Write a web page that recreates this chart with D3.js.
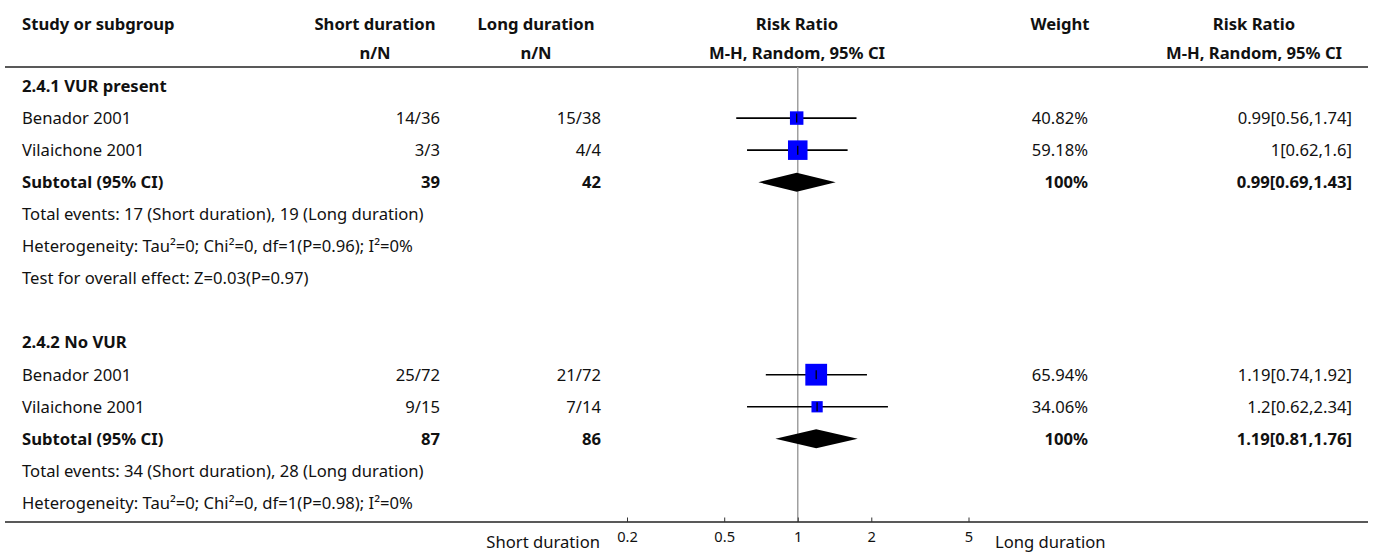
<!DOCTYPE html>
<html><head><meta charset="utf-8">
<script src="https://cdn.jsdelivr.net/npm/d3@7"></script>
<style>
body{margin:0;background:#fff;}
text{font-family:"Noto Sans",sans-serif;fill:#111;}
.b{font-weight:bold;}
</style></head>
<body><svg id="c" width="1373" height="552"></svg>
<script>
// ---- data ----
const groupNames = ["2.4.1 VUR present", "2.4.2 No VUR"];
const studyNames = ["Benador 2001", "Vilaichone 2001", "Benador 2001", "Vilaichone 2001"];
const studyGroup = [0, 0, 1, 1];
const shortEvents = ["14/36", "3/3", "25/72", "9/15"];
const longEvents = ["15/38", "4/4", "21/72", "7/14"];
const rr = [0.99, 1, 1.19, 1.2];
const ciLow = [0.56, 0.62, 0.74, 0.62];
const ciHigh = [1.74, 1.6, 1.92, 2.34];
const weights = [40.82, 59.18, 65.94, 34.06];
const weightText = ["40.82%", "59.18%", "65.94%", "34.06%"];
const ciText = ["0.99[0.56,1.74]", "1[0.62,1.6]", "1.19[0.74,1.92]", "1.2[0.62,2.34]"];
const subShortN = ["39", "87"];
const subLongN = ["42", "86"];
const subRR = [0.99, 1.19];
const subLow = [0.69, 0.81];
const subHigh = [1.43, 1.76];
const subWeightText = ["100%", "100%"];
const subCiText = ["0.99[0.69,1.43]", "1.19[0.81,1.76]"];
const totalEventsText = ["Total events: 17 (Short duration), 19 (Long duration)", "Total events: 34 (Short duration), 28 (Long duration)"];
const heterogeneityText = ["Heterogeneity: Tau\u00b2=0; Chi\u00b2=0, df=1(P=0.96); I\u00b2=0%", "Heterogeneity: Tau\u00b2=0; Chi\u00b2=0, df=1(P=0.98); I\u00b2=0%"];
const overallText = ["Test for overall effect: Z=0.03(P=0.97)", null];
const axisTicks = [0.2, 0.5, 1, 2, 5];
const axisLeftLabel = "Short duration";
const axisRightLabel = "Long duration";

// ---- layout ----
const svg = d3.select("#c");
// fit font size so body text has the reference width
const probe = svg.append("text").style("font-size", "15px").text(totalEventsText[0]);
const fs = 15 * 402 / probe.node().getComputedTextLength();
probe.remove();
d3.select("style").text(d3.select("style").text() + `text{font-size:${fs.toFixed(2)}px;}`);

const x = d3.scaleLog().domain([0.2, 5]).range([627, 968.5]);
const rowY = d3.scaleLinear().domain([0, 13]).range([86, 503]);
const sq = d3.scaleLinear().domain([0, 100]).range([0, 33]);
const colName = 22, colShort = 440, colLong = 601, colW = 1088, colCI = 1352;
const lineTop = 67, lineBottom = 522;

function txt(xp, yp, s, anchor, bold) {
  svg.append("text").attr("x", xp).attr("y", yp).attr("dy", "0.35em")
    .attr("text-anchor", anchor || "start").attr("class", bold ? "b" : null).text(s);
}

// headers
txt(colName, 24, "Study or subgroup", "start", true);
txt(375, 24, "Short duration", "middle", true);
txt(375, 53, "n/N", "middle", true);
txt(536, 24, "Long duration", "middle", true);
txt(536, 53, "n/N", "middle", true);
txt(797, 24, "Risk Ratio", "middle", true);
txt(797, 53, "M-H, Random, 95% CI", "middle", true);
txt(1060, 24, "Weight", "middle", true);
txt(1254, 24, "Risk Ratio", "middle", true);
txt(1254, 53, "M-H, Random, 95% CI", "middle", true);

svg.append("line").attr("x1", 5).attr("x2", 1368).attr("y1", lineTop).attr("y2", lineTop)
  .attr("stroke", "#222").attr("stroke-width", 1.5);

// vertical line of no effect
svg.append("line").attr("x1", x(1)).attr("x2", x(1)).attr("y1", lineTop).attr("y2", lineBottom)
  .attr("stroke", "#a0a0a0").attr("stroke-width", 1.5);

// rows
const groupStartRow = [0, 8];
groupNames.forEach((g, gi) => {
  const r0 = groupStartRow[gi];
  txt(colName, rowY(r0), g, "start", true);
  const idx = studyNames.map((_, i) => i).filter(i => studyGroup[i] === gi);
  idx.forEach((i, k) => {
    const y = rowY(r0 + 1 + k);
    txt(colName, y, studyNames[i]);
    txt(colShort, y, shortEvents[i], "end");
    txt(colLong, y, longEvents[i], "end");
    txt(colW, y, weightText[i], "end");
    txt(colCI, y, ciText[i], "end");
    svg.append("line").attr("x1", x(ciLow[i])).attr("x2", x(ciHigh[i])).attr("y1", y).attr("y2", y)
      .attr("stroke", "#000").attr("stroke-width", 1.6);
    const s = sq(weights[i]);
    svg.append("rect").attr("x", x(rr[i]) - s / 2).attr("y", y - s / 2).attr("width", s).attr("height", s)
      .attr("fill", "#0000ff");
    svg.append("line").attr("x1", x(rr[i])).attr("x2", x(rr[i])).attr("y1", y - 4.5).attr("y2", y + 4.5)
      .attr("stroke", "#000").attr("stroke-width", 1.3);
  });
  const ys = rowY(r0 + 1 + idx.length);
  txt(colName, ys, "Subtotal (95% CI)", "start", true);
  txt(colShort, ys, subShortN[gi], "end", true);
  txt(colLong, ys, subLongN[gi], "end", true);
  txt(colW, ys, subWeightText[gi], "end", true);
  txt(colCI, ys, subCiText[gi], "end", true);
  const h = 9.5;
  svg.append("path").attr("d",
    `M${x(subLow[gi])},${ys} L${x(subRR[gi])},${ys - h} L${x(subHigh[gi])},${ys} L${x(subRR[gi])},${ys + h} Z`)
    .attr("fill", "#000");
  txt(colName, rowY(r0 + 2 + idx.length), totalEventsText[gi]);
  txt(colName, rowY(r0 + 3 + idx.length), heterogeneityText[gi]);
  if (overallText[gi]) txt(colName, rowY(r0 + 4 + idx.length), overallText[gi]);
});

// bottom line and axis
svg.append("line").attr("x1", 5).attr("x2", 1368).attr("y1", lineBottom).attr("y2", lineBottom)
  .attr("stroke", "#222").attr("stroke-width", 1.5);
const ax = svg.append("g").attr("transform", `translate(0,${lineBottom})`)
  .call(d3.axisBottom(x).tickValues(axisTicks).tickFormat(d3.format("")).tickSize(-4.5).tickPadding(10));
ax.select(".domain").remove();
ax.selectAll(".tick line").attr("stroke", "#333");
ax.selectAll(".tick text").style("font-size", (fs * 0.88).toFixed(2) + "px").style("font-family", "'Noto Sans',sans-serif").attr("fill", "#111");
txt(600, 542, axisLeftLabel, "end");
txt(995, 542, axisRightLabel, "start");
</script></body></html>
